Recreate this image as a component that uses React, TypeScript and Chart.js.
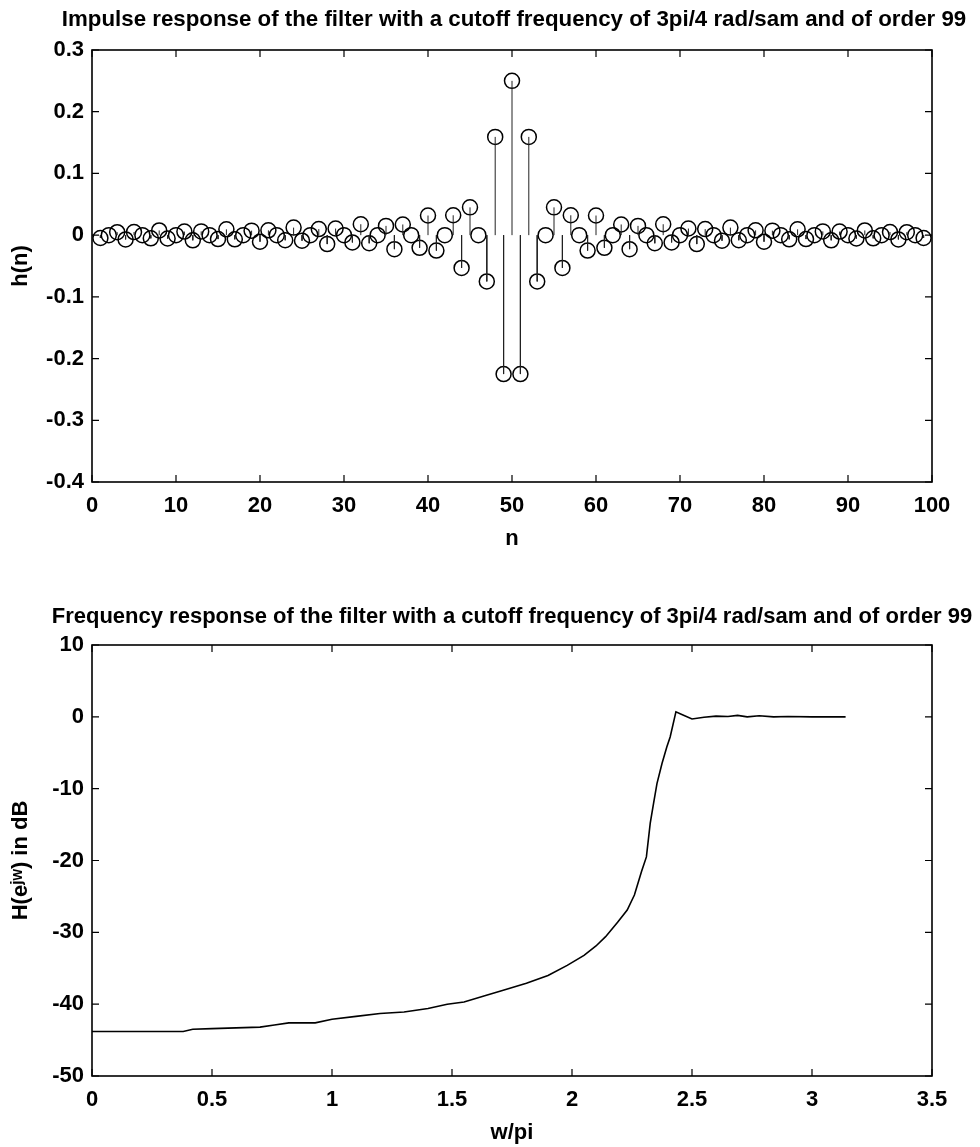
import React, { useEffect, useRef } from 'react';
import { Chart, registerables } from 'chart.js';

Chart.register(...registerables);

const FONT = "'Liberation Sans', Arial, Helvetica, sans-serif";

// ---------- data: impulse response ----------
const nIndex = [
  1, 2, 3, 4, 5, 6, 7, 8, 9, 10, 11, 12, 13, 14, 15, 16, 17, 18, 19, 20,
  21, 22, 23, 24, 25, 26, 27, 28, 29, 30, 31, 32, 33, 34, 35, 36, 37, 38, 39, 40,
  41, 42, 43, 44, 45, 46, 47, 48, 49, 50, 51, 52, 53, 54, 55, 56, 57, 58, 59, 60,
  61, 62, 63, 64, 65, 66, 67, 68, 69, 70, 71, 72, 73, 74, 75, 76, 77, 78, 79, 80,
  81, 82, 83, 84, 85, 86, 87, 88, 89, 90, 91, 92, 93, 94, 95, 96, 97, 98, 99,
];
const impulse = [
  -0.0046, 0, 0.0048, -0.0069, 0.005, 0, -0.0052, 0.0076, -0.0055, 0,
  0.0058, -0.0084, 0.0061, 0, -0.0064, 0.0094, -0.0068, 0, 0.0073, -0.0106,
  0.0078, 0, -0.0083, 0.0122, -0.009, 0, 0.0098, -0.0145, 0.0107, 0,
  -0.0118, 0.0177, -0.0132, 0, 0.015, -0.0227, 0.0173, 0, -0.0205, 0.0318,
  -0.025, 0, 0.0322, -0.0531, 0.045, 0, -0.075, 0.1592, -0.2251,
  0.25,
  -0.2251, 0.1592, -0.075, 0, 0.045, -0.0531, 0.0322, 0, -0.025, 0.0318,
  -0.0205, 0, 0.0173, -0.0227, 0.015, 0, -0.0132, 0.0177, -0.0118, 0,
  0.0107, -0.0145, 0.0098, 0, -0.009, 0.0122, -0.0083, 0, 0.0078, -0.0106,
  0.0073, 0, -0.0068, 0.0094, -0.0064, 0, 0.0061, -0.0084, 0.0058, 0,
  -0.0055, 0.0076, -0.0052, 0, 0.005, -0.0069, 0.0048, 0, -0.0046,
];
const topXTicks = [0, 10, 20, 30, 40, 50, 60, 70, 80, 90, 100];
const topYTicks = [-0.4, -0.3, -0.2, -0.1, 0, 0.1, 0.2, 0.3];

// ---------- data: frequency response ----------
const freqW = [
  0, 0.1, 0.2, 0.3, 0.38, 0.42, 0.5, 0.6, 0.7, 0.76,
  0.82, 0.88, 0.93, 1.0, 1.1, 1.2, 1.3, 1.4, 1.48, 1.55,
  1.64, 1.71, 1.81, 1.9, 1.98, 2.05, 2.1, 2.14, 2.19, 2.23,
  2.26, 2.29, 2.31, 2.326, 2.34, 2.354, 2.375, 2.395, 2.409, 2.433,
  2.46, 2.5, 2.55, 2.6, 2.65, 2.69, 2.73, 2.78, 2.84, 2.9,
  3.0, 3.1, 3.14,
];
const freqDb = [
  -43.8, -43.8, -43.8, -43.8, -43.8, -43.5, -43.4, -43.3, -43.2, -42.9,
  -42.6, -42.6, -42.6, -42.1, -41.7, -41.3, -41.1, -40.6, -40.0, -39.7,
  -38.8, -38.1, -37.1, -36.0, -34.6, -33.2, -31.9, -30.6, -28.6, -26.9,
  -24.8, -21.5, -19.5, -14.8, -12.0, -9.3, -6.5, -4.2, -2.8, 0.7,
  0.3, -0.3, -0.05, 0.1, 0.05, 0.2, 0.0, 0.15, 0.0, 0.05,
  0.0, 0.0, 0.0,
];
const botXTicks = [0, 0.5, 1, 1.5, 2, 2.5, 3, 3.5];
const botYTicks = [-50, -40, -30, -20, -10, 0, 10];

const topTitle = 'Impulse response of the filter with a cutoff frequency of 3pi/4 rad/sam and of order 99';
const botTitle = 'Frequency response of the filter with a cutoff frequency of 3pi/4 rad/sam and of order 99';

const fmt = (v: number) => {
  const r = Math.round(v * 10) / 10;
  return r === 0 ? '0' : String(r);
};

const boxPlugin = {
  id: 'matlabBox',
  afterDraw(chart: any) {
    const { ctx, chartArea } = chart;
    const { left, right, top, bottom } = chartArea;
    const xs = chart.scales.x;
    const ys = chart.scales.y;
    ctx.save();
    ctx.strokeStyle = '#000';
    ctx.lineWidth = 1.6;
    ctx.strokeRect(left, top, right - left, bottom - top);
    ctx.lineWidth = 1.2;
    const L = 7;
    ctx.beginPath();
    xs.ticks.forEach((t: any) => {
      const p = xs.getPixelForValue(t.value);
      ctx.moveTo(p, bottom);
      ctx.lineTo(p, bottom - L);
      ctx.moveTo(p, top);
      ctx.lineTo(p, top + L);
    });
    ys.ticks.forEach((t: any) => {
      const p = ys.getPixelForValue(t.value);
      ctx.moveTo(left, p);
      ctx.lineTo(left + L, p);
      ctx.moveTo(right, p);
      ctx.lineTo(right - L, p);
    });
    ctx.stroke();
    // centred figure title (MATLAB centres it over the axes, allowed to overhang)
    const tt = chart.options.plugins.matlabBox;
    if (tt && tt.text) {
      ctx.fillStyle = '#000';
      ctx.font = `bold ${tt.size}px ${FONT}`;
      ctx.textAlign = 'center';
      ctx.textBaseline = 'middle';
      ctx.fillText(tt.text, (left + right) / 2 + tt.dx, tt.y);
    }
    ctx.restore();
  },
};

const tickFont = { family: FONT, size: 22, weight: 'bold' as const };

function axisX(min: number, max: number, ticks: number[], label: string, height: number, titleBottom: number) {
  return {
    type: 'linear' as const,
    min,
    max,
    afterBuildTicks: (s: any) => {
      s.ticks = ticks.map((v) => ({ value: v }));
    },
    afterFit: (s: any) => {
      s.height = height;
    },
    grid: { display: false, drawTicks: false },
    border: { display: false },
    ticks: { font: tickFont, color: '#000', padding: 11, maxRotation: 0, autoSkip: false, callback: (v: any) => fmt(Number(v)) },
    title: { display: true, text: label, font: tickFont, color: '#000', padding: { top: 0, bottom: titleBottom } },
  };
}

function axisY(min: number, max: number, ticks: number[], label: string) {
  return {
    type: 'linear' as const,
    min,
    max,
    afterBuildTicks: (s: any) => {
      s.ticks = ticks.map((v) => ({ value: v }));
    },
    afterFit: (s: any) => {
      s.width = 92;
    },
    grid: { display: false, drawTicks: false },
    border: { display: false },
    ticks: { font: tickFont, color: '#000', padding: 8, autoSkip: false, callback: (v: any) => fmt(Number(v)) },
    title: { display: true, text: label, font: tickFont, color: '#000', padding: { top: 8, bottom: 0 } },
  };
}

function makeTopConfig(): any {
  const stems: any[] = [];
  nIndex.forEach((n, i) => {
    stems.push({ x: n, y: 0 }, { x: n, y: impulse[i] }, { x: n, y: null });
  });
  const circles = nIndex.map((n, i) => ({ x: n, y: impulse[i] }));
  return {
    type: 'scatter',
    data: {
      datasets: [
        {
          data: stems,
          showLine: true,
          spanGaps: false,
          borderColor: '#222',
          borderWidth: 1,
          pointRadius: 0,
          clip: false,
        },
        {
          data: circles,
          showLine: false,
          pointStyle: 'circle',
          pointRadius: 7.5,
          pointBorderWidth: 1.5,
          borderColor: '#000',
          backgroundColor: 'rgba(0,0,0,0)',
          clip: false,
        },
      ],
    },
    options: {
      animation: false,
      responsive: false,
      events: [],
      layout: { padding: { left: 0, right: 48, top: 50, bottom: 0 } },
      plugins: {
        legend: { display: false },
        tooltip: { enabled: false },
        title: { display: false },
        matlabBox: { text: topTitle, size: 22.3, y: 20, dx: 2 },
      },
      scales: {
        x: axisX(0, 100, topXTicks, 'n', 93, 23),
        y: axisY(-0.4, 0.3, topYTicks, 'h(n)'),
      },
    },
    plugins: [boxPlugin],
  };
}

function makeBottomConfig(): any {
  const pts = freqW.map((w, i) => ({ x: w, y: freqDb[i] }));
  return {
    type: 'scatter',
    data: {
      datasets: [
        {
          data: pts,
          showLine: true,
          borderColor: '#000',
          borderWidth: 1.6,
          pointRadius: 0,
          tension: 0,
        },
      ],
    },
    options: {
      animation: false,
      responsive: false,
      events: [],
      layout: { padding: { left: 0, right: 48, top: 70, bottom: 0 } },
      plugins: {
        legend: { display: false },
        tooltip: { enabled: false },
        title: { display: false },
        matlabBox: { text: botTitle, size: 22, y: 42, dx: 0 },
      },
      scales: {
        x: axisX(0, 3.5, botXTicks, 'w/pi', 71, 1),
        y: axisY(-50, 10, botYTicks, 'H(e\u02B2\u02B7) in dB'),
      },
    },
    plugins: [boxPlugin],
  };
}

function ChartCanvas({ top, height, makeConfig }: { top: number; height: number; makeConfig: () => any }) {
  const ref = useRef<HTMLCanvasElement>(null);
  useEffect(() => {
    if (!ref.current) return;
    const chart = new Chart(ref.current, makeConfig());
    return () => chart.destroy();
  }, []);
  return (
    <canvas
      ref={ref}
      width={980}
      height={height}
      style={{ position: 'absolute', left: 0, top, width: 980, height, display: 'block' }}
    />
  );
}

export default function App() {
  return (
    <div style={{ position: 'absolute', left: 0, top: 0, width: 980, height: 1147, background: '#fff', overflow: 'hidden' }}>
      <ChartCanvas top={0} height={575} makeConfig={makeTopConfig} />
      <ChartCanvas top={575} height={572} makeConfig={makeBottomConfig} />
    </div>
  );
}
